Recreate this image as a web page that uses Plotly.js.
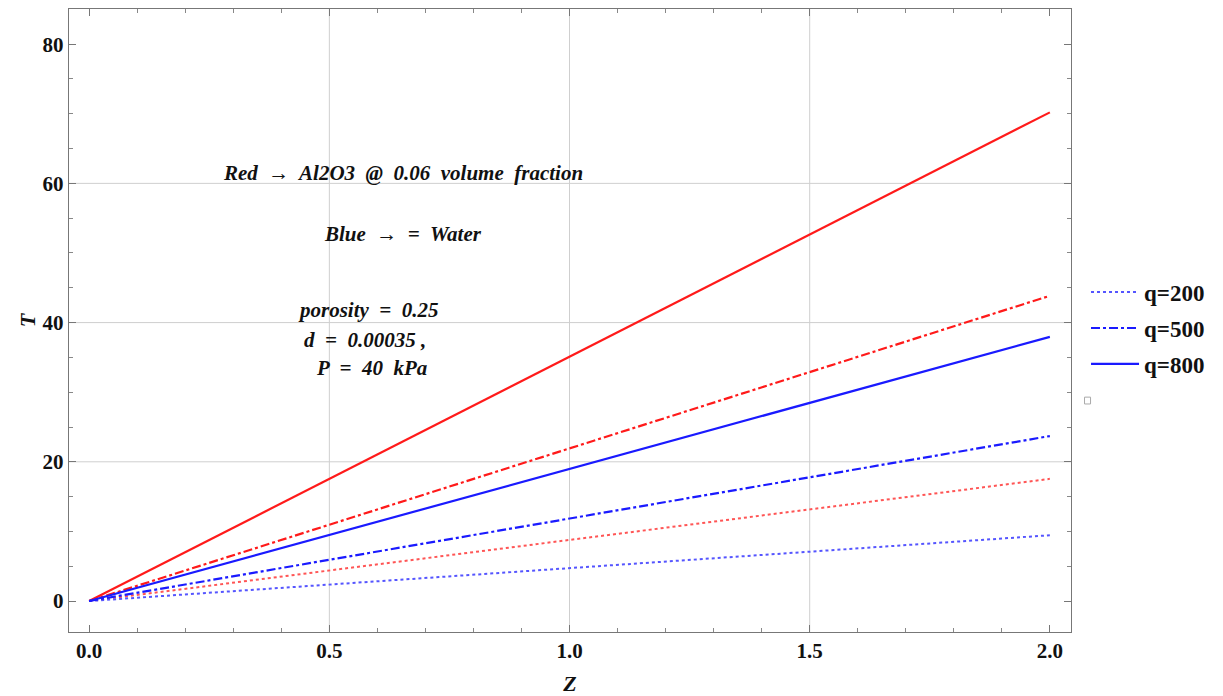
<!DOCTYPE html>
<html>
<head>
<meta charset="utf-8">
<script src="https://cdn.plot.ly/plotly-3.0.1.min.js"></script>
<style>html,body{margin:0;padding:0;background:#fff;}#chart{width:1223px;height:696px;}</style>
</head>
<body>
<div id="chart"></div>
<script>
const zValues = [0, 2];
const qLabels = ["q=200", "q=500", "q=800"];
const redT200 = [0, 17.55];
const redT500 = [0, 43.85];
const redT800 = [0, 70.2];
const blueT200 = [0, 9.45];
const blueT500 = [0, 23.7];
const blueT800 = [0, 37.95];
const xTicks = [0, 0.5, 1.0, 1.5, 2.0];
const xTickText = ["0.0", "0.5", "1.0", "1.5", "2.0"];
const yTicks = [0, 20, 40, 60, 80];
const gridX = [0.5, 1.0, 1.5];
const gridY = [20, 40, 60];

const SERIF = "Liberation Serif";
const RED = "#ff1a1a", BLUE = "#1a1aff";
const traces = [
  {x: zValues, y: redT200, mode: "lines", line: {color: "#ff5555", width: 2, dash: "dot"}, showlegend: false},
  {x: zValues, y: redT500, mode: "lines", line: {color: RED, width: 2.2, dash: "dashdot"}, showlegend: false},
  {x: zValues, y: redT800, mode: "lines", line: {color: RED, width: 2.2}, showlegend: false},
  {x: zValues, y: blueT200, mode: "lines", name: "<b>" + qLabels[0] + "</b>", legendgroup: "a", line: {color: "#5555ff", width: 2, dash: "dot"}},
  {x: zValues, y: blueT500, mode: "lines", name: "<b>" + qLabels[1] + "</b>", legendgroup: "b", line: {color: BLUE, width: 2.2, dash: "dashdot"}},
  {x: zValues, y: blueT800, mode: "lines", name: "<b>" + qLabels[2] + "</b>", legendgroup: "c", line: {color: BLUE, width: 2.2}}
];

const shapes = [];
gridX.forEach(v => shapes.push({type: "line", xref: "x", yref: "paper", x0: v, x1: v, y0: 0, y1: 1, line: {color: "#cfcfcf", width: 1}, layer: "below"}));
gridY.forEach(v => shapes.push({type: "line", xref: "paper", yref: "y", x0: 0, x1: 1, y0: v, y1: v, line: {color: "#cfcfcf", width: 1}, layer: "below"}));
shapes.push({type: "rect", xref: "paper", yref: "paper", x0: 1.0135, x1: 1.0195, y0: 0.366, y1: 0.377, line: {color: "#aaaaaa", width: 1}, fillcolor: "#ffffff"});

const annFont = {family: SERIF, size: 21, color: "#111"};
const annTexts = [
  {t: "<b><i>Red  →  Al2O3  @  0.06  volume  fraction</i></b>", x: 0.653, y: 61.5},
  {t: "<b><i>Blue  →  =  Water</i></b>", x: 0.653, y: 52.7},
  {t: "<b><i>porosity  =  0.25</i></b>", x: 0.581, y: 41.8},
  {t: "<b><i>d  =  0.00035 ,</i></b>", x: 0.574, y: 37.5},
  {t: "<b><i>P  =  40  kPa</i></b>", x: 0.587, y: 33.5}
];
const annotations = annTexts.map(a => ({x: a.x, y: a.y, xref: "x", yref: "y", text: a.t, showarrow: false, font: annFont, xanchor: "center", yanchor: "middle"}));

const tickFont = {family: SERIF, size: 21, color: "#111"};
const layout = {
  width: 1223, height: 696,
  margin: {l: 69, r: 152, t: 9, b: 64},
  paper_bgcolor: "#fff", plot_bgcolor: "#fff",
  font: {family: SERIF},
  showlegend: true,
  legend: {x: 1.015, y: 0.58, xanchor: "left", yanchor: "top", font: {family: SERIF, size: 23, color: "#111"}, tracegroupgap: 3, itemwidth: 48, bgcolor: "rgba(0,0,0,0)"},
  xaxis: {
    range: [-0.042, 2.044], tickvals: xTicks, ticktext: xTickText.map(s => "<b>" + s + "</b>"),
    showgrid: false, zeroline: false, showline: true, mirror: "ticks", linecolor: "#777", linewidth: 1.2,
    ticks: "inside", ticklen: 7, tickcolor: "#777", tickfont: tickFont,
    minor: {dtick: 0.1, tick0: 0, ticks: "inside", ticklen: 4, tickcolor: "#888", showgrid: false},
    title: {text: "<b><i>Z</i></b>", font: {family: SERIF, size: 22, color: "#111"}, standoff: 16}
  },
  yaxis: {
    range: [-4.45, 85.05], tickvals: yTicks, ticktext: yTicks.map(v => "<b>" + v + "</b>"),
    showgrid: false, zeroline: false, showline: true, mirror: "ticks", linecolor: "#777", linewidth: 1.2,
    ticks: "inside", ticklen: 7, tickcolor: "#777", tickfont: tickFont,
    minor: {dtick: 5, tick0: 0, ticks: "inside", ticklen: 4, tickcolor: "#888", showgrid: false},
    title: {text: "<b><i>T</i></b>", font: {family: SERIF, size: 22, color: "#111"}, standoff: 0}
  },
  shapes: shapes,
  annotations: annotations
};
Plotly.newPlot("chart", traces, layout, {displayModeBar: false, staticPlot: true});
</script>
</body>
</html>
